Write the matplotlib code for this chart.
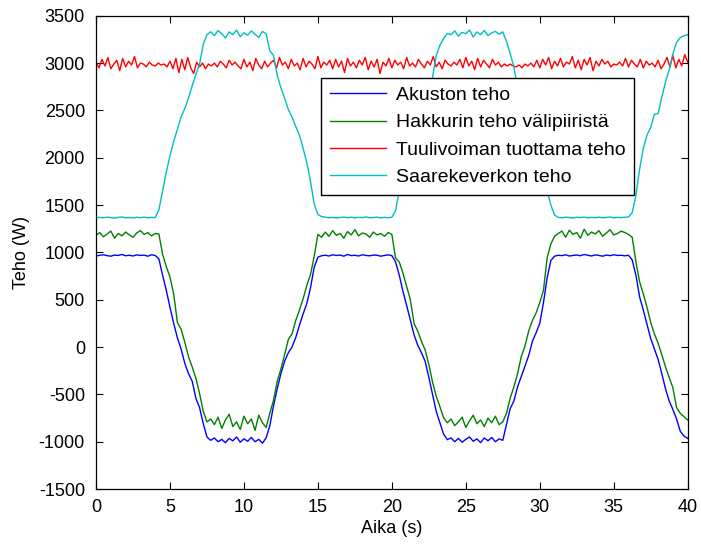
import numpy as np
import matplotlib
matplotlib.use("Agg")
import matplotlib.pyplot as plt

plt.rcParams['font.family'] = ['Liberation Sans', 'DejaVu Sans']
plt.rcParams['axes.unicode_minus'] = False

# time axis (s), one sample every 0.25 s
t = np.linspace(0, 40, 161)

akusto = [962, 970, 975, 966, 960, 972, 968, 978, 965, 970, 962, 974, 968, 971, 960, 975, 968,
          930, 760, 600, 420, 250, 98, -20, -170, -280, -360, -540, -640, -810, -950, -985,
          -960, -1000, -975, -1010, -965, -990, -950, -1005, -970, -995, -955, -1000, -975, -1015, -960,
          -830, -620, -440, -280, -150, -60, 0, 100, 230, 350, 460, 627, 845, 950, 965,
          970, 962, 975, 968, 972, 960, 978, 966, 970, 962, 975, 968, 964, 972, 970, 960, 968, 974, 966,
          900, 760, 590, 440, 285, 130, 20, -60, -150, -320, -500, -680, -800, -920, -978,
          -960, -1000, -965, -1005, -975, -950, -995, -970, -1010, -960, -990, -955, -1000, -970, -985,
          -818, -650, -570, -420, -310, -200, -90, 60, 150, 250, 470, 732, 915, 960,
          970, 966, 975, 962, 968, 972, 965, 978, 970, 962, 974, 968, 960, 972, 966, 975, 968, 970, 964, 970,
          920, 760, 530, 390, 239, 90, -20, -130, -280, -440, -570, -660, -760, -890, -940, -965]

hakkuri = [1180, 1210, 1165, 1195, 1225, 1150, 1200, 1175, 1215, 1185, 1160, 1205, 1230, 1190, 1210, 1175, 1200,
           1195, 980, 850, 740, 560, 260, 190, 50, -100, -210, -330, -490, -680, -790, -760,
           -820, -740, -860, -770, -710, -840, -790, -870, -730, -810, -760, -880, -720, -800, -850,
           -700, -560, -360, -230, -80, 80, 140, 280, 390, 510, 650, 767, 960, 1190, 1160,
           1215, 1170, 1230, 1180, 1200, 1150, 1220, 1185, 1240, 1175, 1205, 1195, 1160, 1215, 1185, 1200, 1170, 1210, 1190,
           940, 900, 780, 640, 500, 250, 170, 60, -30, -184, -370, -520, -630, -748, -800,
           -760, -830, -790, -740, -850, -780, -720, -810, -770, -840, -750, -800, -730, -820, -790,
           -700, -540, -420, -280, -100, 10, 170, 280, 360, 470, 600, 944, 1090, 1170,
           1200, 1225, 1160, 1235, 1190, 1210, 1150, 1245, 1180, 1215, 1195, 1230, 1170, 1205, 1240, 1185, 1200, 1225, 1210, 1190,
           1160, 900, 690, 560, 420, 260, 140, 40, -80, -210, -320, -430, -640, -700, -735, -770]

saareke = [1365, 1370, 1366, 1372, 1368, 1362, 1370, 1374, 1366, 1369, 1364, 1371, 1367, 1373, 1365, 1370, 1368,
           1450, 1650, 1850, 2020, 2175, 2300, 2430, 2520, 2630, 2760, 2880, 2990, 3200, 3300, 3331,
           3290, 3345, 3310, 3265, 3330, 3300, 3350, 3280, 3320, 3295, 3340, 3305, 3270, 3335, 3310,
           3130, 3080, 2870, 2740, 2630, 2510, 2430, 2330, 2240, 2100, 1950, 1750, 1510, 1400, 1378,
           1372, 1366, 1370, 1364, 1369, 1373, 1367, 1371, 1365, 1370, 1368, 1374, 1366, 1369, 1372, 1365, 1370, 1367, 1371,
           1440, 1650, 1800, 1950, 2080, 2220, 2340, 2430, 2520, 2680, 2850, 3080, 3190, 3260, 3313,
           3300, 3340, 3285, 3325, 3310, 3350, 3275, 3330, 3300, 3345, 3290, 3320, 3335, 3305, 3330,
           3230, 3100, 2960, 2740, 2640, 2530, 2400, 2300, 2200, 2070, 1880, 1650, 1500, 1395,
           1370, 1366, 1372, 1368, 1364, 1371, 1369, 1373, 1365, 1370, 1367, 1372, 1366, 1369, 1374, 1365, 1370, 1368, 1371, 1375,
           1420, 1600, 1880, 2100, 2240, 2320, 2460, 2467, 2640, 2800, 2930, 3101, 3220, 3270, 3290, 3300]

# wind power, sampled more densely (every 0.2 s)
t_tuuli = np.linspace(0, 40, 201)
tuuli = [3010, 2950, 3040, 2970, 3060, 2940, 2990, 3030, 2920, 3050,
         2960, 3020, 2980, 3070, 2950, 3000, 2990, 2960, 3010, 2980,
         2970, 3000, 2980, 2990, 2960, 3020, 2940, 3050, 2900, 3040,
         2930, 3060, 2950, 2890, 3010, 2960, 3000, 2940, 2990, 2970,
         3000, 2960, 3020, 2990, 2950, 3030, 2980, 3010, 2970, 2940,
         3040, 2960, 3010, 2920, 3050, 2980, 2940, 3020, 2960, 3000,
         3030, 2950, 3060, 2980, 3010, 2940, 3040, 2970, 3000, 2930,
         3050, 2960, 3020, 2990, 2940, 3070, 2950, 3010, 2980, 3030,
         2940, 3040, 2960, 3020, 2900, 3050, 2970, 3010, 2950, 3030,
         2980, 3060, 2930, 3020, 2960, 3040, 2890, 3010, 2970, 3050,
         2950, 3030, 2980, 3010, 2940, 3060, 2970, 3000, 2960, 3040,
         2990, 2950, 3020, 2980, 3070, 2960, 3010, 2940, 3030, 2990,
         2970, 3010, 2980, 3040, 2950, 3060, 2970, 3020, 2930, 3050,
         2960, 3030, 2990, 2950, 3040, 2980, 3010, 2960, 2990, 2970,
         2990, 2970, 2960, 2980, 2950, 2990, 2970, 3000, 2960, 3030,
         2950, 3040, 2980, 3060, 2940, 3020, 2970, 3050, 2960, 3010,
         2990, 3070, 2950, 3030, 2930, 3040, 2980, 3060, 2920, 3020,
         2970, 3040, 2990, 3020, 2960, 2990, 2980, 3010, 2970, 3050,
         2960, 3030, 2990, 2960, 3040, 2950, 3020, 2980, 3000, 2960,
         3030, 2940, 2990, 3060, 2960, 3080, 2950, 3040, 2970, 3090,
         3010]

labels = ["Akuston teho", "Hakkurin teho välipiiristä",
          "Tuulivoiman tuottama teho", "Saarekeverkon teho"]

fig = plt.figure(figsize=(7.01, 5.44), dpi=100)
ax = fig.add_axes([0.137, 0.101, 0.844, 0.870])

ax.plot(t, akusto, color=(0, 0, 1), linewidth=1.0, label=labels[0])
ax.plot(t, hakkuri, color=(0, 0.5, 0), linewidth=1.0, label=labels[1])
ax.plot(t_tuuli, tuuli, color=(1, 0, 0), linewidth=1.0, label=labels[2])
ax.plot(t, saareke, color=(0, 0.75, 0.75), linewidth=1.0, label=labels[3])

ax.set_xlim(0, 40)
ax.set_ylim(-1500, 3500)
ax.set_xticks(range(0, 41, 5))
ax.set_yticks(range(-1500, 3501, 500))
ax.tick_params(direction='in', top=True, right=True, length=5, width=0.8, labelsize=13)
ax.tick_params(axis='x', pad=7)
ax.tick_params(axis='y', pad=8)
for s in ax.spines.values():
    s.set_linewidth(0.9)

ax.set_xlabel("Aika (s)", fontsize=13, labelpad=3)
ax.set_ylabel("Teho (W)", fontsize=13, labelpad=6)

leg = ax.legend(loc='upper left', bbox_to_anchor=(0.38, 0.869), fontsize=14,
                frameon=True, fancybox=False, edgecolor='black', framealpha=1,
                handlelength=2.9, handletextpad=0.5, labelspacing=0.5,
                borderpad=0.45, borderaxespad=0)
leg.get_frame().set_linewidth(1.0)

fig.savefig("out.png", dpi=100)
